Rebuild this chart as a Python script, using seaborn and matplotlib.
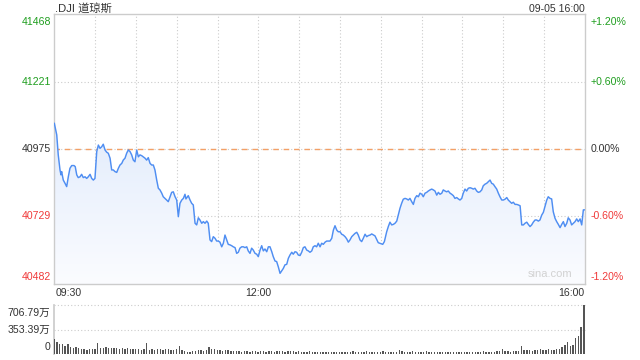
import numpy as np
import pandas as pd
import matplotlib
matplotlib.use("Agg")
import matplotlib.pyplot as plt
import seaborn as sns
from matplotlib.patches import Polygon
from matplotlib.colors import LinearSegmentedColormap

# ---------------- data ----------------
# minutes after 09:30 and index level
minutes = [0.0, 1.8, 2.9, 4.2, 4.9, 5.4, 6.6, 7.9, 9.1, 10.3, 11.5, 12.8, 14.5, 15.4, 16.5, 17.6, 18.9, 20.1,
           21.3, 22.6, 23.8, 25.0, 26.3, 27.5, 28.7, 29.9, 31.2, 32.4, 33.6, 34.9, 36.0, 37.3, 38.5, 39.7,
           41.0, 42.2, 43.4, 44.6, 45.9, 47.1, 48.3, 49.6, 50.7, 52.0, 53.2, 54.4, 55.7, 56.9, 58.1, 59.3,
           60.6, 61.8, 63.0, 64.3, 65.4, 66.7, 67.9, 69.1, 70.4, 71.6, 72.8, 74.0,
           75.3, 76.5, 77.7, 79.0, 80.1, 81.4, 82.6, 83.8, 85.1, 86.3, 87.5, 88.8, 90.0, 91.2, 92.4, 93.7,
           94.9, 96.1, 96.8, 98.5, 99.8, 101.0, 102.2, 103.5, 104.7, 105.9, 107.1, 108.4, 109.6, 110.8,
           112.1, 113.2, 114.5, 115.7, 116.9, 118.2, 119.4, 120.6, 121.8, 123.1, 124.3, 125.5, 126.8,
           127.9, 129.2, 130.4, 131.6, 132.9, 134.1, 135.3, 136.5, 137.8, 139.0, 140.2, 141.5, 142.6,
           143.9, 145.1, 146.3, 147.6, 148.8, 150.0, 151.3, 152.5, 153.7, 154.9,
           156.2, 157.4, 158.6, 159.9, 161.0, 162.3, 163.5, 164.7, 166.0, 167.2, 168.4, 169.6, 170.9,
           172.1, 173.3, 174.6, 175.7, 177.0, 178.2, 179.4, 180.7, 181.9, 183.1, 184.3, 185.6, 186.8,
           188.0, 189.3, 190.4, 191.7, 192.9, 194.1, 195.4, 196.6, 197.8, 199.1, 200.3, 201.5, 202.7,
           204.0, 205.2, 206.4, 207.7, 208.8, 210.1, 211.3, 212.5, 213.8, 215.0, 216.2, 217.4, 218.7,
           219.9, 221.1, 222.4, 223.5, 224.8, 226.0, 227.2, 228.5, 229.7, 230.9, 232.2, 233.4, 235.8,
           238.2, 241.5, 242.7,
           244.4, 245.6, 246.8, 248.1, 249.3, 250.5, 251.8, 252.9, 254.2, 255.4, 256.6, 257.9, 259.1,
           260.3, 261.5, 262.8, 264.0, 265.2, 266.5, 267.7, 268.9, 270.2, 271.3, 272.6, 273.8, 275.0,
           276.3, 277.5, 278.7, 279.9, 281.2, 282.4, 283.6, 284.9, 286.0, 287.3, 288.5, 289.7, 291.0,
           292.2, 293.4, 294.6, 295.9, 297.1, 298.3, 299.6, 300.7, 302.0, 303.2, 304.4, 305.7,
           306.9, 308.1, 309.3, 310.6, 311.8, 313.0, 314.3, 315.4, 316.7, 317.9, 319.1, 320.4, 321.6,
           322.8, 324.0, 325.3, 326.5, 327.7, 329.0, 330.2, 331.4, 332.7, 333.8, 335.1, 336.3, 337.5,
           338.8, 340.0, 341.2, 342.5, 343.7, 344.9, 346.1, 347.4, 348.5, 349.8, 351.0, 352.2, 353.5,
           354.7, 355.9, 357.1, 358.4, 359.6, 360.8, 362.1, 363.2, 364.5, 365.7, 366.9, 368.2, 369.4,
           370.6, 371.9, 373.1, 374.3, 375.5, 376.8, 377.9, 379.2, 380.4, 381.6, 382.9, 384.1, 385.3,
           386.6, 387.8, 389.0, 390.0]

prices = [41070, 41027, 40954, 40899, 40881, 40893, 40862, 40850, 40838, 40874, 40905, 40915, 40915, 40911,
          40881, 40871, 40874, 40883, 40871, 40874, 40868, 40874, 40883, 40868, 40862, 40868, 40966, 40990,
          40978, 40984, 40993, 40972, 40964, 40960, 40942, 40899, 40899, 40893, 40890, 40905, 40917, 40923,
          40935, 40942, 40960, 40972, 40966, 40954, 40935, 40929, 40972, 40947, 40954, 40951, 40947, 40942,
          40935, 40944, 40923, 40917, 40917, 40899,
          40862, 40832, 40826, 40814, 40801, 40795, 40789, 40783, 40801, 40817, 40819, 40801, 40789, 40728,
          40777, 40789, 40795, 40810, 40793, 40805, 40789, 40777, 40771, 40704, 40698, 40724, 40716, 40704,
          40710, 40704, 40712, 40704, 40643, 40637, 40655, 40649, 40639, 40639, 40635, 40618, 40631, 40661,
          40643, 40627, 40625, 40622, 40618, 40615, 40594, 40598, 40613, 40618, 40618, 40615, 40618, 40603,
          40594, 40613, 40606, 40594, 40591, 40582, 40606, 40622, 40603, 40610,
          40600, 40618, 40618, 40600, 40582, 40566, 40564, 40545, 40521, 40530, 40539, 40552, 40554, 40576,
          40588, 40598, 40591, 40600, 40598, 40588, 40586, 40598, 40615, 40618, 40606, 40603, 40598, 40603,
          40618, 40622, 40618, 40631, 40618, 40631, 40627, 40635, 40639, 40639, 40639, 40649, 40679, 40695,
          40679, 40673, 40673, 40664, 40661, 40655, 40647, 40635, 40643, 40655, 40661, 40667, 40671, 40661,
          40643, 40637, 40649, 40664, 40655, 40659, 40661, 40665, 40658, 40633, 40627, 40637,
          40673, 40692, 40708, 40698, 40700, 40704, 40712, 40734, 40759, 40777, 40792, 40795, 40793, 40789,
          40795, 40783, 40773, 40795, 40805, 40801, 40814, 40810, 40801, 40814, 40817, 40822, 40826, 40829,
          40826, 40822, 40807, 40817, 40810, 40814, 40826, 40822, 40819, 40822, 40814, 40810, 40805, 40795,
          40798, 40793, 40789, 40795, 40814, 40829, 40822, 40832, 40834,
          40832, 40829, 40832, 40822, 40817, 40819, 40826, 40841, 40847, 40850, 40856, 40862, 40850, 40847,
          40838, 40829, 40814, 40801, 40789, 40789, 40792, 40798, 40789, 40783, 40777, 40781, 40773, 40773,
          40771, 40768, 40698, 40698, 40704, 40708, 40700, 40692, 40698, 40708, 40716, 40716, 40712, 40716,
          40734, 40744, 40765, 40789, 40801, 40795, 40793, 40746, 40722, 40710, 40700, 40688, 40700, 40710,
          40692, 40704, 40724, 40716, 40698, 40704, 40710, 40720, 40710, 40720, 40698, 40753, 40753]

# volume (万), one bar every 2 minutes
vol_minutes = list(range(0, 391, 2))
volumes = [215, 175, 150, 140, 115, 150, 105, 90, 100, 80,
           70, 65, 60, 75, 70, 72, 160, 85, 90, 95,
           80, 85, 90, 80, 75, 85, 70, 80, 75, 70,
           75, 65, 60, 70, 155, 60, 70, 60, 65, 70,
           60, 65, 70, 60, 55, 65, 110, 60, 50, 35,
           30, 45, 50, 55, 60, 50, 55, 100, 70, 65,
           60, 55, 50, 60, 55, 45, 40, 45, 40, 35,
           40, 45, 35, 40, 45, 35, 40, 45, 35, 40,
           45, 35, 40, 45, 40, 35, 40, 45, 40, 35,
           40, 35, 30, 35, 40, 35, 30, 35, 30, 35,
           30, 28, 32, 30, 35, 30, 28, 32, 30, 35,
           40, 35, 30, 32, 35, 38, 30, 35, 32, 30,
           35, 40, 35, 30, 28, 32, 35, 55, 40, 35,
           30, 35, 40, 35, 30, 32, 35, 38, 35, 30,
           32, 35, 30, 28, 32, 30, 35, 30, 28, 32,
           30, 35, 30, 28, 32, 35, 30, 35, 40, 35,
           30, 32, 35, 38, 40, 70, 45, 40, 35, 40,
           45, 40, 115, 60, 55, 60, 50, 55, 60, 65,
           55, 60, 65, 55, 60, 70, 75, 100, 130, 175,
           115, 130, 230, 260, 390, 706.79]

title_text = ".DJI 道琼斯"
time_text = "09-05 16:00"
prev_close = 40975
price_ticks = [41468, 41221, 40975, 40729, 40482]
pct_labels = ["+1.20%", "+0.60%", "0.00%", "-0.60%", "-1.20%"]
x_tick_labels = ["09:30", "12:00", "16:00"]
x_tick_minutes = [0, 150, 390]
vol_ticks = [706.79, 353.39, 0]
vol_labels = ["706.79万", "353.39万", "0"]

# ---------------- style ----------------
sns.set_theme(style="white")
plt.rcParams["font.family"] = ["Liberation Sans", "Noto Sans CJK SC", "DejaVu Sans"]

GREEN = "#1f9e1f"
RED = "#f03a3a"
DARK = "#333333"
GRID = "#cccccc"
LINE = "#4f8ef2"
FS = 7.6

W, H = 640, 360
fig = plt.figure(figsize=(6.4, 3.6), dpi=100)
fig.patch.set_facecolor("white")
L, R = 54.3, 584.7
ax = fig.add_axes([L / W, 1 - 284 / H, (R - L) / W, (284 - 14.3) / H])
axv = fig.add_axes([L / W, 1 - 354 / H, (R - L) / W, (354 - 305) / H])

ymin, ymax = price_ticks[-1], price_ticks[0]

df = pd.DataFrame({"m": minutes, "p": prices})

# gradient fill under the line
verts = [(minutes[0], ymin)] + list(zip(minutes, prices)) + [(minutes[-1], ymin)]
poly = Polygon(verts, closed=True, facecolor="none", edgecolor="none")
ax.add_patch(poly)
cmap = LinearSegmentedColormap.from_list("g", ["#fbfcff", "#e2ecfc"])
grad = np.linspace(1, 0, 256).reshape(-1, 1)
im = ax.imshow(grad, extent=[0, 390, ymin, max(prices)], aspect="auto", cmap=cmap, zorder=1)
im.set_clip_path(poly)

# grid
for m in range(30, 390, 30):
    ax.axvline(m, color=GRID, lw=0.8, ls=(0, (1, 2)), zorder=0.5)
for v in price_ticks[1:-1]:
    ax.axhline(v, color=GRID, lw=0.8, ls=(0, (1, 2)), zorder=0.5)
ax.axhline(prev_close, color="#f3a066", lw=1.0, ls=(0, (4, 3.5)), zorder=0.6)

sns.lineplot(data=df, x="m", y="p", ax=ax, color=LINE, lw=1.05, zorder=3)

ax.set_xlim(0, 390)
ax.set_ylim(ymin, ymax)
ax.set_xticks([])
ax.set_yticks([])
ax.set_xlabel("")
ax.set_ylabel("")
for s in ax.spines.values():
    s.set_color(GRID)
    s.set_linewidth(1.0)

colors = [GREEN, GREEN, DARK, RED, RED]
for i, (v, lab, c) in enumerate(zip(price_ticks, pct_labels, colors)):
    if i == 0:
        va, dy = "top", -2.5
    elif i == len(price_ticks) - 1:
        va, dy = "bottom", 2.5
    else:
        va, dy = "center", 0
    ax.annotate(f"{v}", xy=(0, v), xycoords=("axes fraction", "data"), xytext=(-3, dy),
                textcoords="offset pixels", ha="right", va=va, color=c, fontsize=FS)
    ax.annotate(lab, xy=(1, v), xycoords=("axes fraction", "data"), xytext=(6, dy),
                textcoords="offset pixels", ha="left", va=va, color=c, fontsize=FS)

has = ["left", "center", "right"]
for m, lab, ha in zip(x_tick_minutes, x_tick_labels, has):
    ax.annotate(lab, xy=(m, 0), xycoords=("data", "axes fraction"), xytext=(1 if ha == "left" else 0, -9.5),
                textcoords="offset pixels", ha=ha, va="center", color=DARK, fontsize=FS)

ax.text(0.977, 0.018, "sina.com", transform=ax.transAxes, ha="right", va="bottom",
        color="#d2d2d2", fontsize=FS + 0.4)

fig.text(55 / W, 1 - 8.5 / H, title_text, ha="left", va="center", color=DARK, fontsize=FS + 0.5)
fig.text(584.5 / W, 1 - 8.5 / H, time_text, ha="right", va="center", color=DARK, fontsize=FS)

# ---------------- volume ----------------
vdf = pd.DataFrame({"m": vol_minutes, "v": volumes})
sns.barplot(data=vdf, x="m", y="v", native_scale=True, color="#555555", saturation=1,
            errorbar=None, width=0.5, linewidth=0, ax=axv, zorder=3)
axv.set_xlim(0, 390.6)
axv.set_ylim(0, vol_ticks[0])
axv.set_xticks([])
axv.set_yticks([])
axv.set_xlabel("")
axv.set_ylabel("")
for k, s in axv.spines.items():
    s.set_visible(k == "left")
axv.spines["left"].set_color(GRID)
for v in vol_ticks[:2]:
    axv.axhline(v, color=GRID, lw=0.8, ls=(0, (1, 2)), zorder=0.5, clip_on=False)
for i, (v, lab) in enumerate(zip(vol_ticks, vol_labels)):
    if i == 0:
        va, dy = "top", -3
    elif i == len(vol_ticks) - 1:
        va, dy = "bottom", 1.5
    else:
        va, dy = "center", 0
    axv.annotate(lab, xy=(0, v), xycoords=("axes fraction", "data"), xytext=(-4, dy),
                 textcoords="offset pixels", ha="right", va=va, color=DARK, fontsize=FS)

fig.savefig("out.png", dpi=100)
